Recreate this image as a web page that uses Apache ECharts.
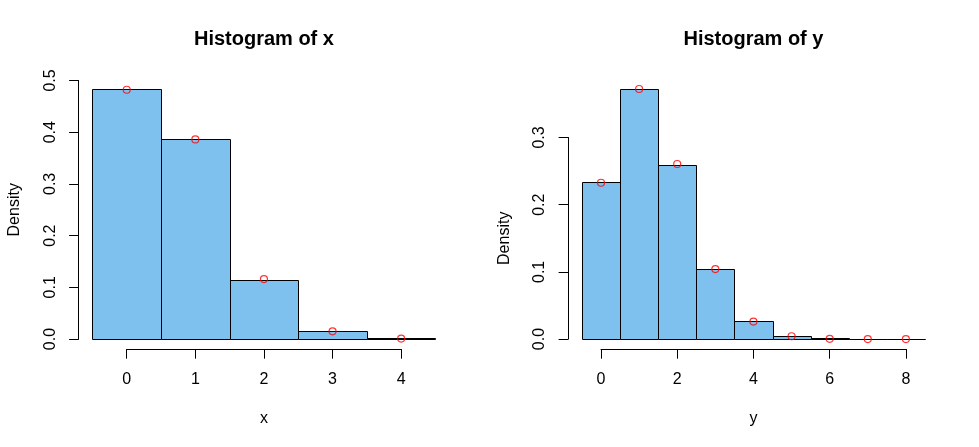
<!DOCTYPE html>
<html><head><meta charset="utf-8">
<script src="https://cdn.jsdelivr.net/npm/echarts@6/dist/echarts.min.js"></script>
<style>html,body{margin:0;padding:0;background:#fff}#c{width:979px;height:447px}</style>
</head><body><div id="c"></div>
<script>
// ---- data ----
const xValues   = [0, 1, 2, 3, 4];
const xDensity  = [0.484, 0.387, 0.115, 0.0165, 0.0015];
const xExpected = [0.482, 0.386, 0.116, 0.015, 0.001];
const xXTicks   = [0, 1, 2, 3, 4];
const xYTicks   = [0, 0.1, 0.2, 0.3, 0.4, 0.5];

const yValues   = [0, 1, 2, 3, 4, 5, 6, 7, 8];
const yDensity  = [0.233, 0.3725, 0.2597, 0.1037, 0.0265, 0.0045, 0.001, 0, 0];
const yExpected = [0.2326, 0.3721, 0.2605, 0.1042, 0.026, 0.0042, 0.0004, 0.00002, 0];
const yXTicks   = [0, 2, 4, 6, 8];
const yYTicks   = [0, 0.1, 0.2, 0.3];

const binWidth = 1;
const titles = ['Histogram of x', 'Histogram of y'];
const xNames = ['x', 'y'];
const yName = 'Density';

// ---- layout ----
const W = 979, H = 447, LINE = 19.2;
const FONT = '"Liberation Sans", Arial, Helvetica, sans-serif';
const panels = [
  {vals: xValues, dens: xDensity, exp: xExpected, xt: xXTicks, yt: xYTicks, title: titles[0], xname: xNames[0]},
  {vals: yValues, dens: yDensity, exp: yExpected, xt: yXTicks, yt: yYTicks, title: titles[1], xname: xNames[1]}
];
const grid = [], xAxis = [], yAxis = [], series = [], graphic = [];
const txt = {color: '#000', fontSize: 16, fontFamily: FONT};

panels.forEach((p, i) => {
  const ox = i * W / 2;
  const L = ox + 4.1 * LINE, R = ox + W / 2 - 2.1 * LINE, T = 4.1 * LINE, B = H - 5.1 * LINE;
  const pw = R - L, ph = B - T;
  const lo = Math.min(...p.vals) - binWidth / 2, hi = Math.max(...p.vals) + binWidth / 2;
  const xlim = [lo - 0.04 * (hi - lo), hi + 0.04 * (hi - lo)];
  const M = Math.max(...p.dens);
  const ylim = [-0.04 * M, 1.04 * M];
  const fx = v => L + (v - xlim[0]) / (xlim[1] - xlim[0]) * pw;
  const fy = v => B - (v - ylim[0]) / (ylim[1] - ylim[0]) * ph;
  const g = grid.length;

  // data grid (plot region)
  grid.push({left: L, top: T, width: pw, height: ph, containLabel: false, outerBoundsMode: 'none'});
  xAxis.push({gridIndex: g, type: 'value', min: xlim[0], max: xlim[1], show: false});
  yAxis.push({gridIndex: g, type: 'value', min: ylim[0], max: ylim[1], show: false});

  // x axis grid (spans tick range)
  const xt0 = p.xt[0], xt1 = p.xt[p.xt.length - 1];
  grid.push({left: fx(xt0), top: T, width: fx(xt1) - fx(xt0), height: ph, containLabel: false, outerBoundsMode: 'none'});
  xAxis.push({
    gridIndex: g + 1, type: 'value', min: xt0, max: xt1, interval: p.xt[1] - p.xt[0], position: 'bottom',
    axisLine: {show: true, onZero: false, lineStyle: {color: '#000', width: 1}},
    axisTick: {show: true, length: 9.6, lineStyle: {color: '#000', width: 1}},
    axisLabel: Object.assign({margin: 23, showMinLabel: true, showMaxLabel: true}, txt),
    splitLine: {show: false},
    name: p.xname, nameLocation: 'middle', nameGap: 62, nameTextStyle: txt
  });
  yAxis.push({gridIndex: g + 1, type: 'value', min: 0, max: 1, show: false});

  // y axis grid
  const yt0 = p.yt[0], yt1 = p.yt[p.yt.length - 1];
  grid.push({left: L, top: fy(yt1), width: pw, height: fy(yt0) - fy(yt1), containLabel: false, outerBoundsMode: 'none'});
  xAxis.push({gridIndex: g + 2, type: 'value', min: 0, max: 1, show: false});
  yAxis.push({
    gridIndex: g + 2, type: 'value', min: yt0, max: yt1, interval: 0.1, position: 'left',
    axisLine: {show: true, onZero: false, lineStyle: {color: '#000', width: 1}},
    axisTick: {show: true, length: 9.6, lineStyle: {color: '#000', width: 1}},
    axisLabel: Object.assign({margin: 20.5, rotate: 90, showMinLabel: true, showMaxLabel: true,
      formatter: v => v.toFixed(1)}, txt),
    splitLine: {show: false},
    name: yName, nameLocation: 'middle', nameRotate: 90, nameGap: 56, nameTextStyle: txt
  });

  // histogram bars
  series.push({
    type: 'custom', xAxisIndex: g, yAxisIndex: g, z: 2,
    data: p.vals.map((v, k) => [v, p.dens[k]]),
    renderItem: (params, api) => {
      const c = api.value(0), h = api.value(1);
      const a = api.coord([c - binWidth / 2, 0]);
      const b = api.coord([c + binWidth / 2, h]);
      const x0 = Math.round(a[0]), x1 = Math.round(b[0]);
      const y0 = Math.round(a[1]), y1 = Math.round(b[1]);
      return {
        type: 'rect',
        shape: {x: x0 + 0.5, y: y1 + 0.5, width: x1 - x0, height: y0 - y1},
        style: {fill: '#7EC0EE', stroke: '#000', lineWidth: 1}
      };
    }
  });
  // expected points
  series.push({
    type: 'scatter', xAxisIndex: g, yAxisIndex: g, z: 3,
    data: p.vals.map((v, k) => [v, p.exp[k]]),
    symbol: 'circle', symbolSize: 7,
    itemStyle: {color: 'rgba(0,0,0,0)', borderColor: '#ff0000', borderWidth: 1.2},
    emphasis: {disabled: true}
  });

  graphic.push({
    type: 'text', x: (L + R) / 2, y: 39,
    style: {text: p.title, font: 'bold 20px ' + FONT, fill: '#000', textAlign: 'center', textVerticalAlign: 'middle'}
  });
});

const chart = echarts.init(document.getElementById('c'), null, {renderer: 'canvas'});
chart.setOption({animation: false, backgroundColor: '#fff', grid, xAxis, yAxis, series, graphic, tooltip: {show: false}});
</script>
</body></html>
